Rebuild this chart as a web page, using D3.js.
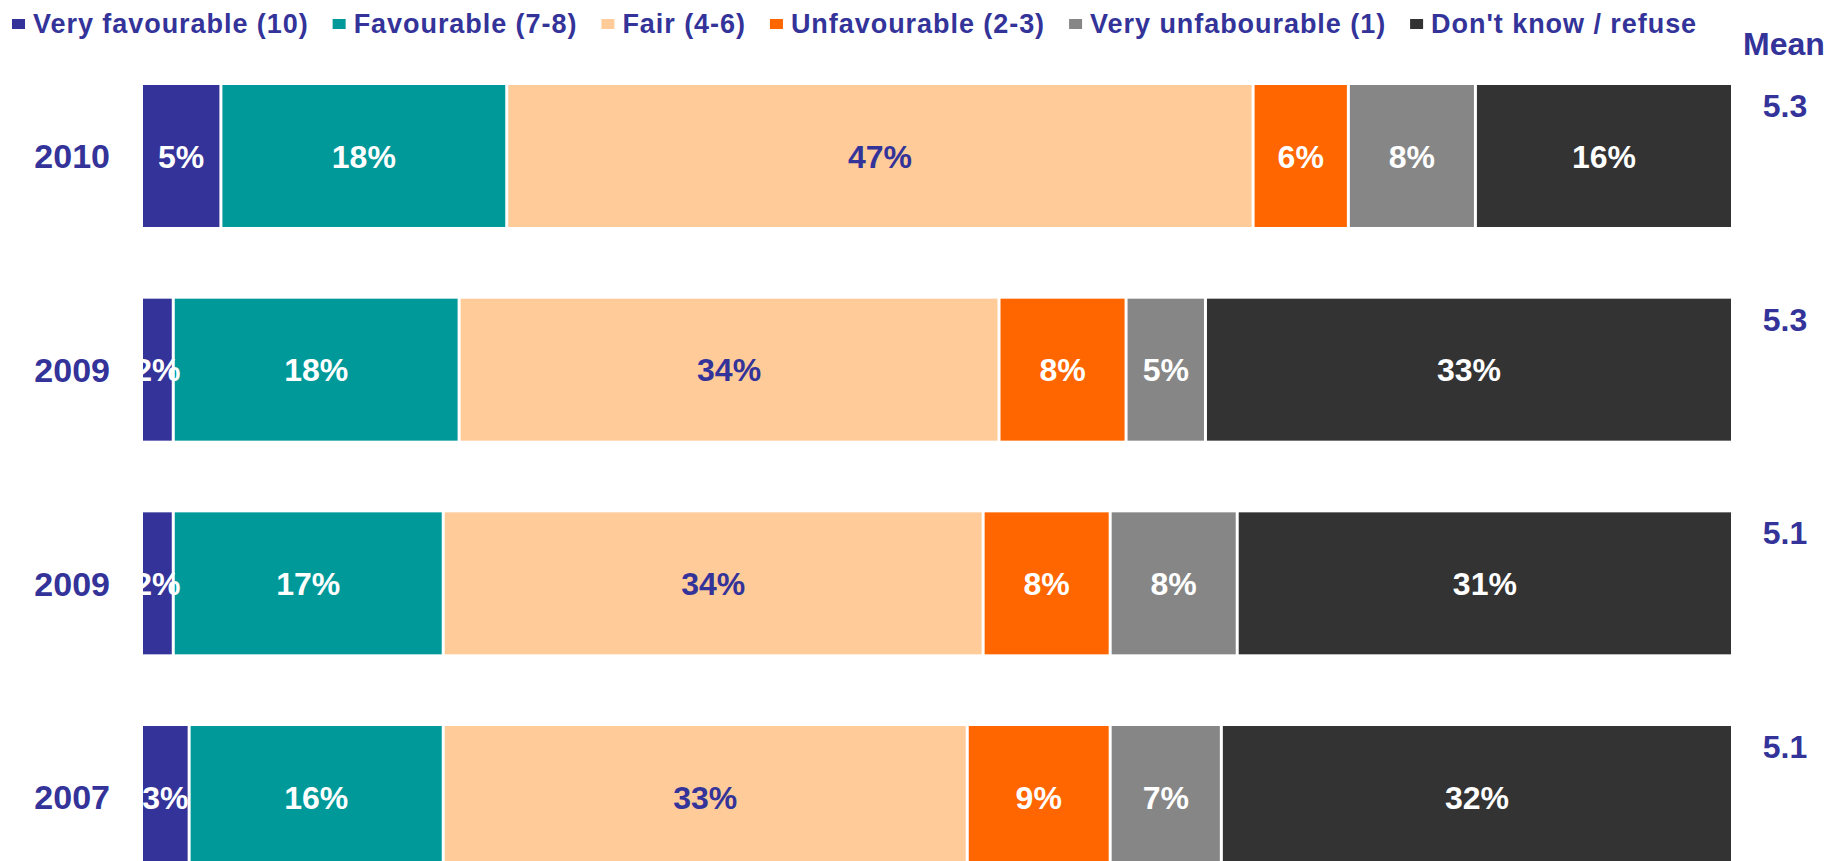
<!DOCTYPE html>
<html>
<head>
<meta charset="utf-8">
<script src="https://cdn.jsdelivr.net/npm/d3@7"></script>
<style>
  html, body { margin: 0; padding: 0; background: #fff; }
  svg { display: block; font-family: "Liberation Sans", Arial, sans-serif; }
</style>
</head>
<body>
<div id="chart"></div>
<script>
// data
const years = ["2010", "2009", "2009", "2007"];
const categories = ["Very favourable (10)", "Favourable (7-8)", "Fair (4-6)", "Unfavourable (2-3)", "Very unfabourable (1)", "Don't know / refuse"];
const veryFav = [5, 2, 2, 3];
const fav = [18, 18, 17, 16];
const fair = [47, 34, 34, 33];
const unfav = [6, 8, 8, 9];
const veryUnfav = [8, 5, 8, 7];
const dontKnow = [16, 33, 31, 32];
const means = ["5.3", "5.3", "5.1", "5.1"];

const colors = ["#333399", "#009999", "#ffcc99", "#ff6600", "#868686", "#333333"];
const labelColors = ["#fff", "#fff", "#333399", "#fff", "#fff", "#fff"];
const navy = "#333399";

const width = 1843, height = 861;

const svg = d3.select("#chart")
  .append("svg")
  .attr("width", width)
  .attr("height", height);

// rows as stacked data
const series = [veryFav, fav, fair, unfav, veryUnfav, dontKnow];
const rows = years.map((y, i) => {
  const obj = { idx: i, year: y, mean: means[i] };
  series.forEach((s, k) => (obj["c" + k] = s[i]));
  return obj;
});
const keys = series.map((s, k) => "c" + k);
const stacked = d3.stack().keys(keys)(rows);

const x = d3.scaleLinear().domain([0, 100]).range([143, 1731]);
const y = d3.scaleBand()
  .domain(d3.range(years.length))
  .range([85, 868])
  .paddingInner(0.3355)
  .paddingOuter(0);

const gap = 3;

// bars
const layers = svg.append("g")
  .selectAll("g")
  .data(stacked)
  .enter()
  .append("g")
  .attr("fill", (d, k) => colors[k]);

layers.selectAll("rect")
  .data((d) => d.map((p) => ({ p, key: d.key })))
  .enter()
  .append("rect")
  .attr("x", (d) => x(d.p[0]))
  .attr("y", (d) => y(d.p.data.idx))
  .attr("width", (d) => {
    const w = x(d.p[1]) - x(d.p[0]);
    return d.key === keys[keys.length - 1] ? w : Math.max(0, w - gap);
  })
  .attr("height", y.bandwidth());

// value labels
stacked.forEach((layer, k) => {
  svg.append("g")
    .selectAll("text")
    .data(layer)
    .enter()
    .append("text")
    .attr("x", (d) => (x(d[0]) + x(d[1]) - (k < keys.length - 1 ? gap : 0)) / 2)
    .attr("y", (d) => y(d.data.idx) + y.bandwidth() / 2)
    .attr("dy", "0.36em")
    .attr("text-anchor", "middle")
    .attr("fill", labelColors[k])
    .style("font-size", "32px")
    .style("font-weight", "bold")
    .text((d) => d.data[layer.key] + "%");
});

// year labels
svg.append("g")
  .selectAll("text")
  .data(rows)
  .enter()
  .append("text")
  .attr("x", 110)
  .attr("y", (d) => y(d.idx) + y.bandwidth() / 2)
  .attr("dy", "0.36em")
  .attr("text-anchor", "end")
  .attr("fill", navy)
  .style("font-size", "34px")
  .style("font-weight", "bold")
  .text((d) => d.year);

// mean column
svg.append("text")
  .attr("x", 1784)
  .attr("y", 55)
  .attr("text-anchor", "middle")
  .attr("fill", navy)
  .style("font-size", "32px")
  .style("font-weight", "bold")
  .text("Mean");

svg.append("g")
  .selectAll("text")
  .data(rows)
  .enter()
  .append("text")
  .attr("x", 1785)
  .attr("y", (d) => y(d.idx) + 32)
  .attr("text-anchor", "middle")
  .attr("fill", navy)
  .style("font-size", "32px")
  .style("font-weight", "bold")
  .text((d) => d.mean);

// legend (laid out left to right)
const legend = svg.append("g");
let lx = 12;
categories.forEach((c, k) => {
  legend.append("rect")
    .attr("x", lx)
    .attr("y", 19)
    .attr("width", 13)
    .attr("height", 10)
    .attr("fill", colors[k]);
  const t = legend.append("text")
    .attr("x", lx + 21)
    .attr("y", 33)
    .attr("fill", navy)
    .style("font-size", "27px")
    .style("font-weight", "bold")
    .style("letter-spacing", "0.95px")
    .text(c);
  lx += 21 + t.node().getComputedTextLength() + 24;
});
</script>
</body>
</html>
